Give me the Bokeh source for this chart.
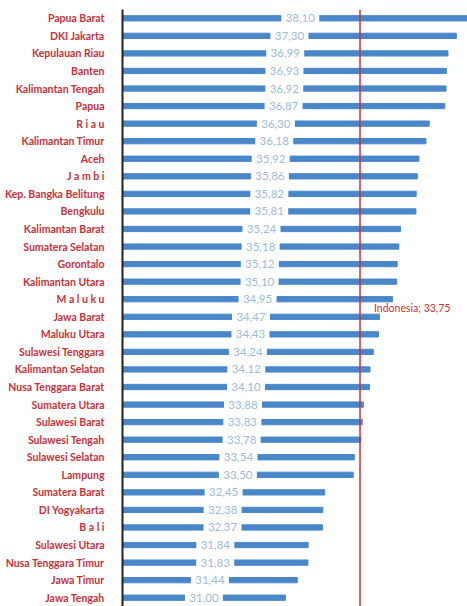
from bokeh.plotting import figure
from bokeh.models import ColumnDataSource, FactorRange, Span, Range1d
from bokeh.transform import dodge
from bokeh.core.properties import value
from bokeh.embed import file_html
from bokeh.resources import INLINE

regions = ["Papua Barat", "DKI Jakarta", "Kepulauan Riau", "Banten", "Kalimantan Tengah",
           "Papua", "R i a u", "Kalimantan Timur", "Aceh", "J a m b i",
           "Kep. Bangka Belitung", "Bengkulu", "Kalimantan Barat", "Sumatera Selatan",
           "Gorontalo", "Kalimantan Utara", "M a l u k u", "Jawa Barat", "Maluku Utara",
           "Sulawesi Tenggara", "Kalimantan Selatan", "Nusa Tenggara Barat",
           "Sumatera Utara", "Sulawesi Barat", "Sulawesi Tengah", "Sulawesi Selatan",
           "Lampung", "Sumatera Barat", "DI Yogyakarta", "B a l i", "Sulawesi Utara",
           "Nusa Tenggara Timur", "Jawa Timur", "Jawa Tengah"]
values = [38.10, 37.30, 36.99, 36.93, 36.92, 36.87, 36.30, 36.18, 35.92, 35.86,
          35.82, 35.81, 35.24, 35.18, 35.12, 35.10, 34.95, 34.47, 34.43, 34.24,
          34.12, 34.10, 33.88, 33.83, 33.78, 33.54, 33.50, 32.45, 32.38, 32.37,
          31.84, 31.83, 31.44, 31.00]
national_label = "Indonesia"
national_value = 33.75

x_start = 25.0
x_end = 37.71

FONT = "Lato"
RED = "#c8323a"
BLUE = "#4a87c9"
LIGHTBLUE = "#9dbbe0"

src = ColumnDataSource(dict(
    region=regions,
    val=values,
    mid=[(x_start + v) / 2 for v in values],
    txt=[f"{v:.2f}".replace(".", ",") for v in values],
))

p = figure(width=467, height=606, output_backend="svg", toolbar_location=None,
           y_range=FactorRange(factors=list(reversed(regions)), range_padding=0),
           x_range=Range1d(x_start, x_end),
           x_axis_location=None, min_border_left=122, min_border_right=0,
           min_border_top=9, min_border_bottom=0)
p.outline_line_color = None
p.xgrid.grid_line_color = None
p.ygrid.grid_line_color = None

p.hbar(y="region", left=x_start, right="val", height=0.3, color=BLUE, source=src)
p.rect(x="mid", y="region", width=38, height=12, width_units="screen",
       height_units="screen", fill_color="white", line_color=None, source=src)
p.text(x="mid", y="region", text="txt", source=src, text_align="center",
       text_baseline="middle", text_color=LIGHTBLUE, text_font_size="11.5px",
       text_font=value(FONT))

p.add_layout(Span(location=national_value, dimension="height", line_color=RED,
                  line_width=1.5))

lab = ColumnDataSource(dict(x=[national_value], y=["Jawa Barat"],
                            t=[f"{national_label}; {national_value:.2f}".replace(".", ",")]))
p.text(x="x", y=dodge("y", 0.5, range=p.y_range), text="t", source=lab,
       x_offset=14, text_align="left", text_baseline="middle", text_color=RED,
       text_font_size="10.5px", text_font=value(FONT))

ax = p.yaxis[0]
ax.axis_line_color = "#222222"
ax.axis_line_width = 2
ax.major_tick_line_color = None
ax.minor_tick_line_color = None
ax.major_label_standoff = 12
ax.major_label_text_color = RED
ax.major_label_text_font = FONT
ax.major_label_text_font_size = "10.5px"
ax.major_label_text_font_style = "bold"

open("out.html", "w").write(file_html(p, INLINE))
